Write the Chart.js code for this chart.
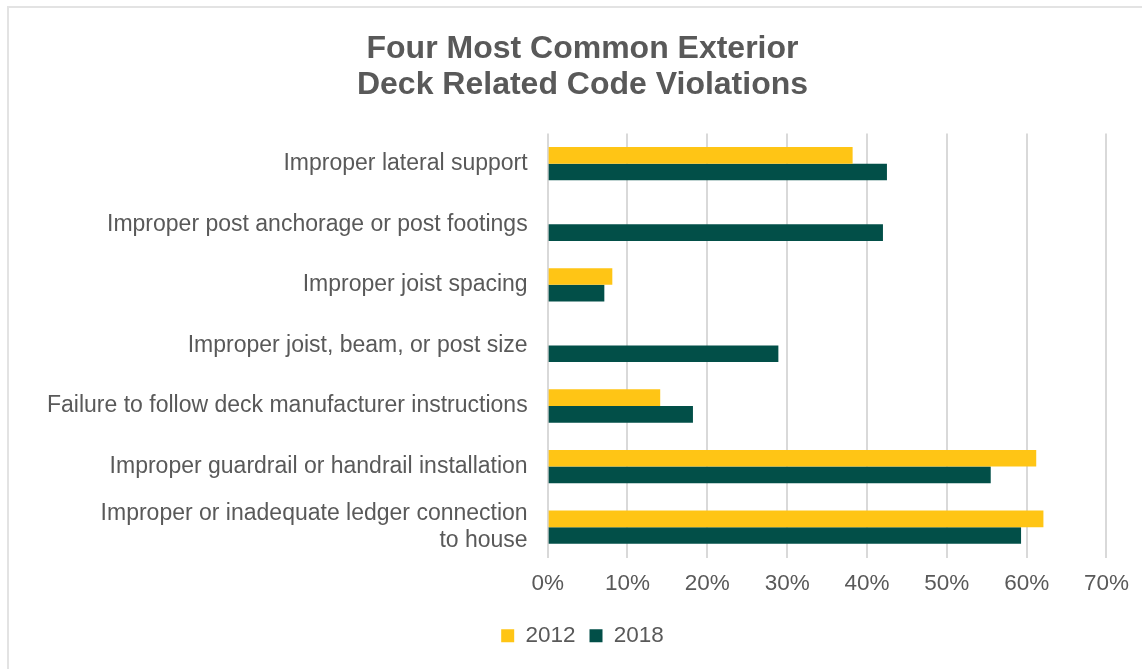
<!DOCTYPE html>
<html>
<head>
<meta charset="utf-8">
<script src="https://cdn.jsdelivr.net/npm/chart.js@4"></script>
<style>
  body { margin: 0; background: #fff; }
  #wrap { position: relative; width: 1142px; height: 669px; }
  #frame {
    position: absolute; left: 7px; top: 6px; width: 1142px; height: 669px;
    border-top: 2px solid #e3e3e3; border-left: 2px solid #e3e3e3;
    pointer-events: none;
  }
</style>
</head>
<body>
<div id="wrap">
  <canvas id="deckChart" width="1142" height="669"></canvas>
  <div id="frame"></div>
</div>
<script>
// categories, top to bottom
const categories = [
  "Improper lateral support",
  "Improper post anchorage or post footings",
  "Improper joist spacing",
  "Improper joist, beam, or post size",
  "Failure to follow deck manufacturer instructions",
  "Improper guardrail or handrail installation",
  ["Improper or inadequate ledger connection", "to house"],
];

// percent of decks with the violation
const values2012 = [38.2, null, 8.1, null, 14.1, 61.2, 62.1];
const values2018 = [42.5, 42.0, 7.1, 28.9, 18.2, 55.5, 59.3];

const xTicks = [0, 10, 20, 30, 40, 50, 60, 70];

const textGray = "#595959";
const font = "Liberation Sans, Arial, sans-serif";

new Chart(document.getElementById("deckChart"), {
  type: "bar",
  data: {
    labels: categories,
    datasets: [
      {
        label: "2012",
        data: values2012,
        backgroundColor: "#FFC515",
        barPercentage: 1,
        categoryPercentage: 0.55,
      },
      {
        label: "2018",
        data: values2018,
        backgroundColor: "#024F48",
        barPercentage: 1,
        categoryPercentage: 0.55,
      },
    ],
  },
  options: {
    indexAxis: "y",
    responsive: false,
    animation: false,
    // left padding is wide so the title sits right of centre, as in the original;
    // the y axis gives the space back in afterFit
    layout: { padding: { top: 32, right: 32, left: 55, bottom: 12 } },
    plugins: {
      title: {
        display: true,
        text: ["Four Most Common Exterior", "Deck Related Code Violations"],
        color: textGray,
        font: { family: font, size: 32, weight: "bold", lineHeight: 1.1 },
        padding: { top: 0, bottom: 31 },
      },
      legend: {
        position: "bottom",
        labels: {
          color: textGray,
          font: { family: font, size: 22.5 },
          boxWidth: 13,
          boxHeight: 13,
          padding: 14,
        },
      },
      tooltip: { enabled: false },
    },
    scales: {
      x: {
        min: 0,
        max: 70,
        afterBuildTicks: (axis) => {
          axis.ticks = xTicks.map((v) => ({ value: v }));
        },
        ticks: {
          color: textGray,
          font: { family: font, size: 22.5 },
          padding: 13,
          callback: (v) => v + "%",
        },
        grid: { color: "#d9d9d9", lineWidth: 2, drawTicks: false },
        border: { display: false },
      },
      y: {
        afterFit: (axis) => {
          axis.width -= 28;
          // labels now reach past the axis box, so don't clip them to it
          axis._computeLabelArea = () => undefined;
        },
        ticks: {
          color: textGray,
          font: { family: font, size: 23 },
          padding: 20,
        },
        grid: { display: false, drawTicks: false },
        border: { display: false },
      },
    },
  },
});
</script>
</body>
</html>
